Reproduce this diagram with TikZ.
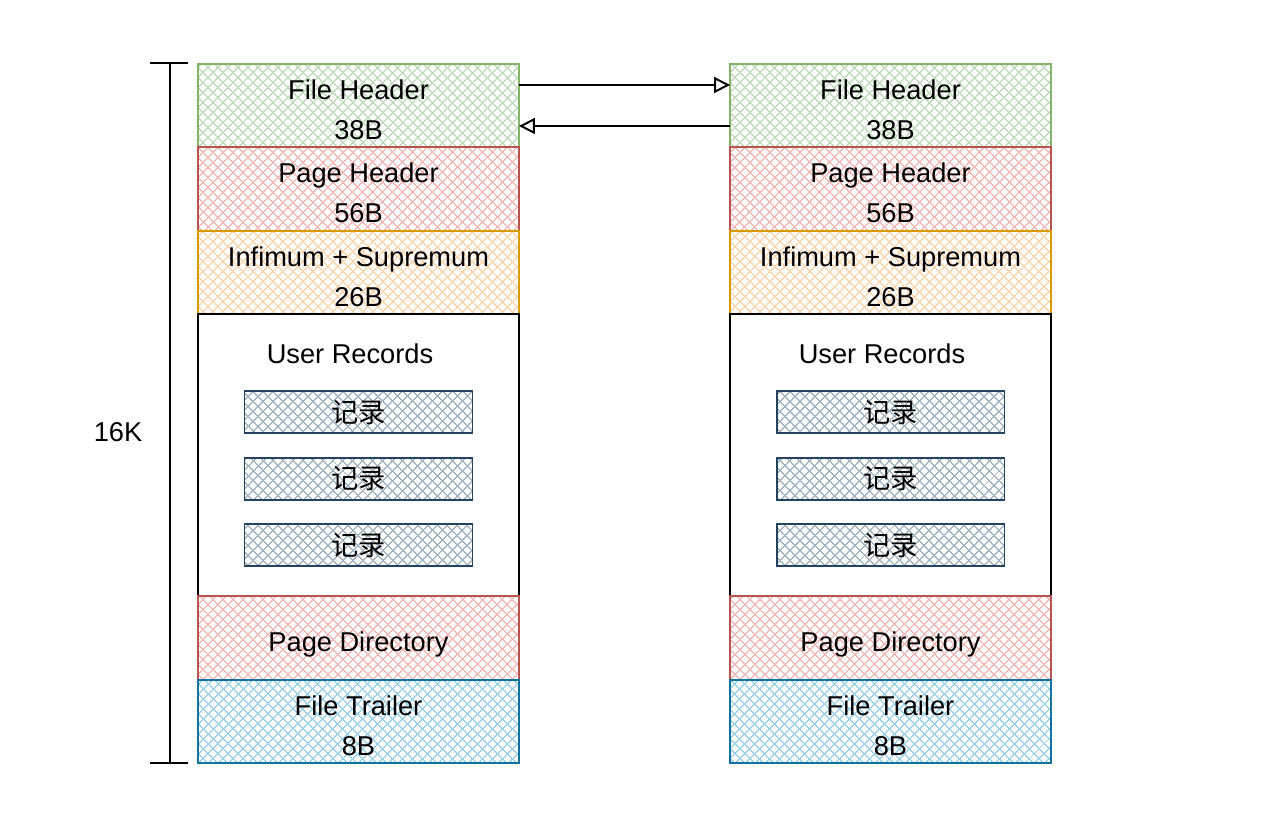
\documentclass[tikz,border=0pt]{standalone}
\usepackage{fontspec}
\setmainfont{Liberation Sans}
\newfontfamily\cjk{Noto Sans CJK SC}
\usetikzlibrary{arrows.meta, positioning, patterns.meta}

\definecolor{greenline}{HTML}{82B366}
\definecolor{greenfill}{HTML}{BFDDBB}
\definecolor{redline}{HTML}{B85450}
\definecolor{redfill}{HTML}{F2B9B6}
\definecolor{orangeline}{HTML}{D79B00}
\definecolor{orangefill}{HTML}{FAD5AE}
\definecolor{blueline}{HTML}{10739E}
\definecolor{bluefill}{HTML}{9CD2EA}
\definecolor{recline}{HTML}{23445D}
\definecolor{recfill}{HTML}{A3B5C4}

\tikzset{
  hatch/.style={preaction={fill=white},
    preaction={pattern={Lines[angle=45,distance=4pt,line width=0.7pt]}, pattern color=#1},
    pattern={Lines[angle=-45,distance=4pt,line width=0.7pt]}, pattern color=#1},
  label font/.style={font=\fontsize{15.5}{22.7}\selectfont},
  seg/.style 2 args={draw=#1, line width=1.1pt, hatch=#2, minimum width=6.42cm,
    minimum height=1.67cm, align=center, inner sep=0pt, outer sep=0pt,
    text height=38.5pt, label font},
  record/.style={draw=recline, line width=1.1pt, hatch=recfill, minimum width=4.56cm,
    minimum height=0.84cm, inner sep=0pt, outer sep=0pt, label font},
  link/.style={line width=1.1pt, -{Triangle[open, length=9pt, width=9pt]}},
}

\begin{document}
\begin{tikzpicture}[x=0.02cm, y=-0.02cm]
  \useasboundingbox (0,0) rectangle (1270,834);

  % two pages side by side
  \foreach \p/\x in {l/358.5, r/890.5} {
    \node[seg={greenline}{greenfill}] (\p-fh) at (\x,105.5) {File Header\\38B};
    \node[seg={redline}{redfill}, below=0pt of \p-fh] (\p-ph) {Page Header\\56B};
    \node[seg={orangeline}{orangefill}, below=0pt of \p-ph] (\p-is) {Infimum + Supremum\\26B};
    \node[draw, line width=1.1pt, minimum width=6.42cm, minimum height=5.64cm,
      inner sep=0pt, outer sep=0pt, below=0pt of \p-is] (\p-ur) {};
    \node[seg={redline}{redfill}, text height=19pt, below=0pt of \p-ur] (\p-pd) {Page Directory};
    \node[seg={blueline}{bluefill}, below=0pt of \p-pd] (\p-ft) {File Trailer\\8B};

    % user records
    \node[label font] (\p-urt) at ([xshift=-0.17cm, yshift=-0.8cm]\p-ur.north) {User Records};
    \foreach \i/\dy in {1/1.96, 2/3.29, 3/4.62}
      \node[record] (\p-rec\i) at ([yshift=-\dy cm]\p-ur.north) {\cjk 记录};
  }

  % links between pages
  \draw[link] ([yshift=0.41cm]l-fh.east) -- ([yshift=0.41cm]r-fh.west);
  \draw[link] ([yshift=-0.41cm]r-fh.west) -- ([yshift=-0.41cm]l-fh.east);

  % page size
  \coordinate (size-top) at (170,63);
  \coordinate (size-bot) at (170,763);
  \draw[line width=1.4pt] (size-top) -- (size-bot);
  \draw[line width=1.4pt] ([xshift=-0.4cm]size-top) -- ([xshift=0.36cm]size-top);
  \draw[line width=1.4pt] ([xshift=-0.4cm]size-bot) -- ([xshift=0.36cm]size-bot);
  \node[label font] (size) at (118,432) {16K};
\end{tikzpicture}
\end{document}
